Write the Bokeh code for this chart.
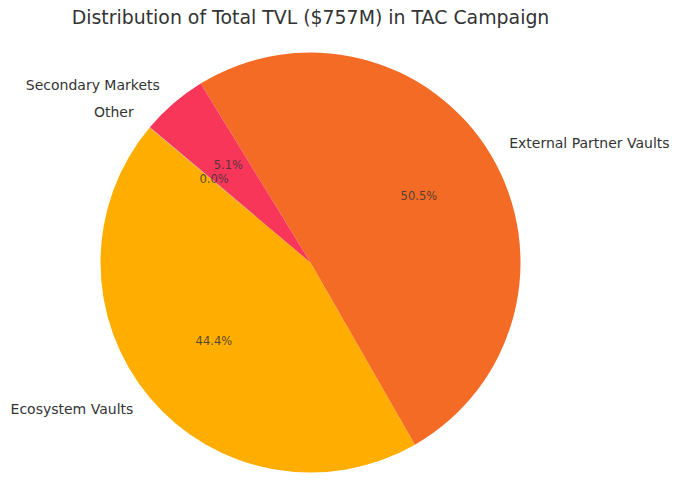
import math
from bokeh.plotting import figure
from bokeh.models import ColumnDataSource, Range1d
from bokeh.core.properties import value
from bokeh.embed import file_html
from bokeh.resources import INLINE

# Data (TVL in $M)
categories = ["Ecosystem Vaults", "External Partner Vaults", "Secondary Markets", "Other"]
tvl_musd = [336.0, 382.0, 38.6, 0.2]
colors = ["#FFAE00", "#F46B25", "#F7365A", "#9E9E9E"]
title_text = "Distribution of Total TVL ($757M) in TAC Campaign"
start_angle_deg = 140.0

total = sum(tvl_musd)
starts, ends, mids, pcts = [], [], [], []
a = math.radians(start_angle_deg)
for v in tvl_musd:
    span = 2 * math.pi * v / total
    starts.append(a)
    ends.append(a + span)
    mids.append(a + span / 2)
    pcts.append("%.1f%%" % (100 * v / total))
    a += span

src = ColumnDataSource(dict(cat=categories, start=starts, end=ends, color=colors))

p = figure(width=672, height=493, output_backend="svg", toolbar_location=None,
           x_range=Range1d(-1.4762, 1.7238), y_range=Range1d(-1.1, 1.2476),
           min_border=0)
p.axis.visible = False
p.grid.visible = False
p.outline_line_color = None
p.background_fill_color = "white"
p.border_fill_color = "white"

p.wedge(x=0, y=0, radius=1.0, start_angle="start", end_angle="end",
        direction="anticlock", fill_color="color", line_color=None, source=src)

dy = 2.0 / 210.0  # small baseline correction

# category labels at 1.1 r
lx = [1.1 * math.cos(m) for m in mids]
ly = [1.1 * math.sin(m) + dy for m in mids]
align = ["left" if x > 0 else "right" for x in lx]
lab = ColumnDataSource(dict(x=lx, y=ly, t=categories, align=align))
p.text(x="x", y="y", text="t", text_align="align", text_baseline="middle",
       text_font=value("DejaVu Sans"), text_font_size="14px",
       text_color="#333333", source=lab)

# percentage labels at 0.6 r
px = [0.6 * math.cos(m) for m in mids]
py = [0.6 * math.sin(m) + dy for m in mids]
pl = ColumnDataSource(dict(x=px, y=py, t=pcts))
p.text(x="x", y="y", text="t", text_align="center", text_baseline="middle",
       text_font=value("DejaVu Sans"), text_font_size="11.5px",
       text_color="#333333", text_alpha=0.85, source=pl)

# title
p.text(x=[0.0], y=[(262 - 16.5) / 210.0], text=[title_text], text_align="center",
       text_baseline="middle", text_font=value("DejaVu Sans"),
       text_font_size="18.9px", text_color="#333333")

open("out.html", "w").write(file_html(p, INLINE))
